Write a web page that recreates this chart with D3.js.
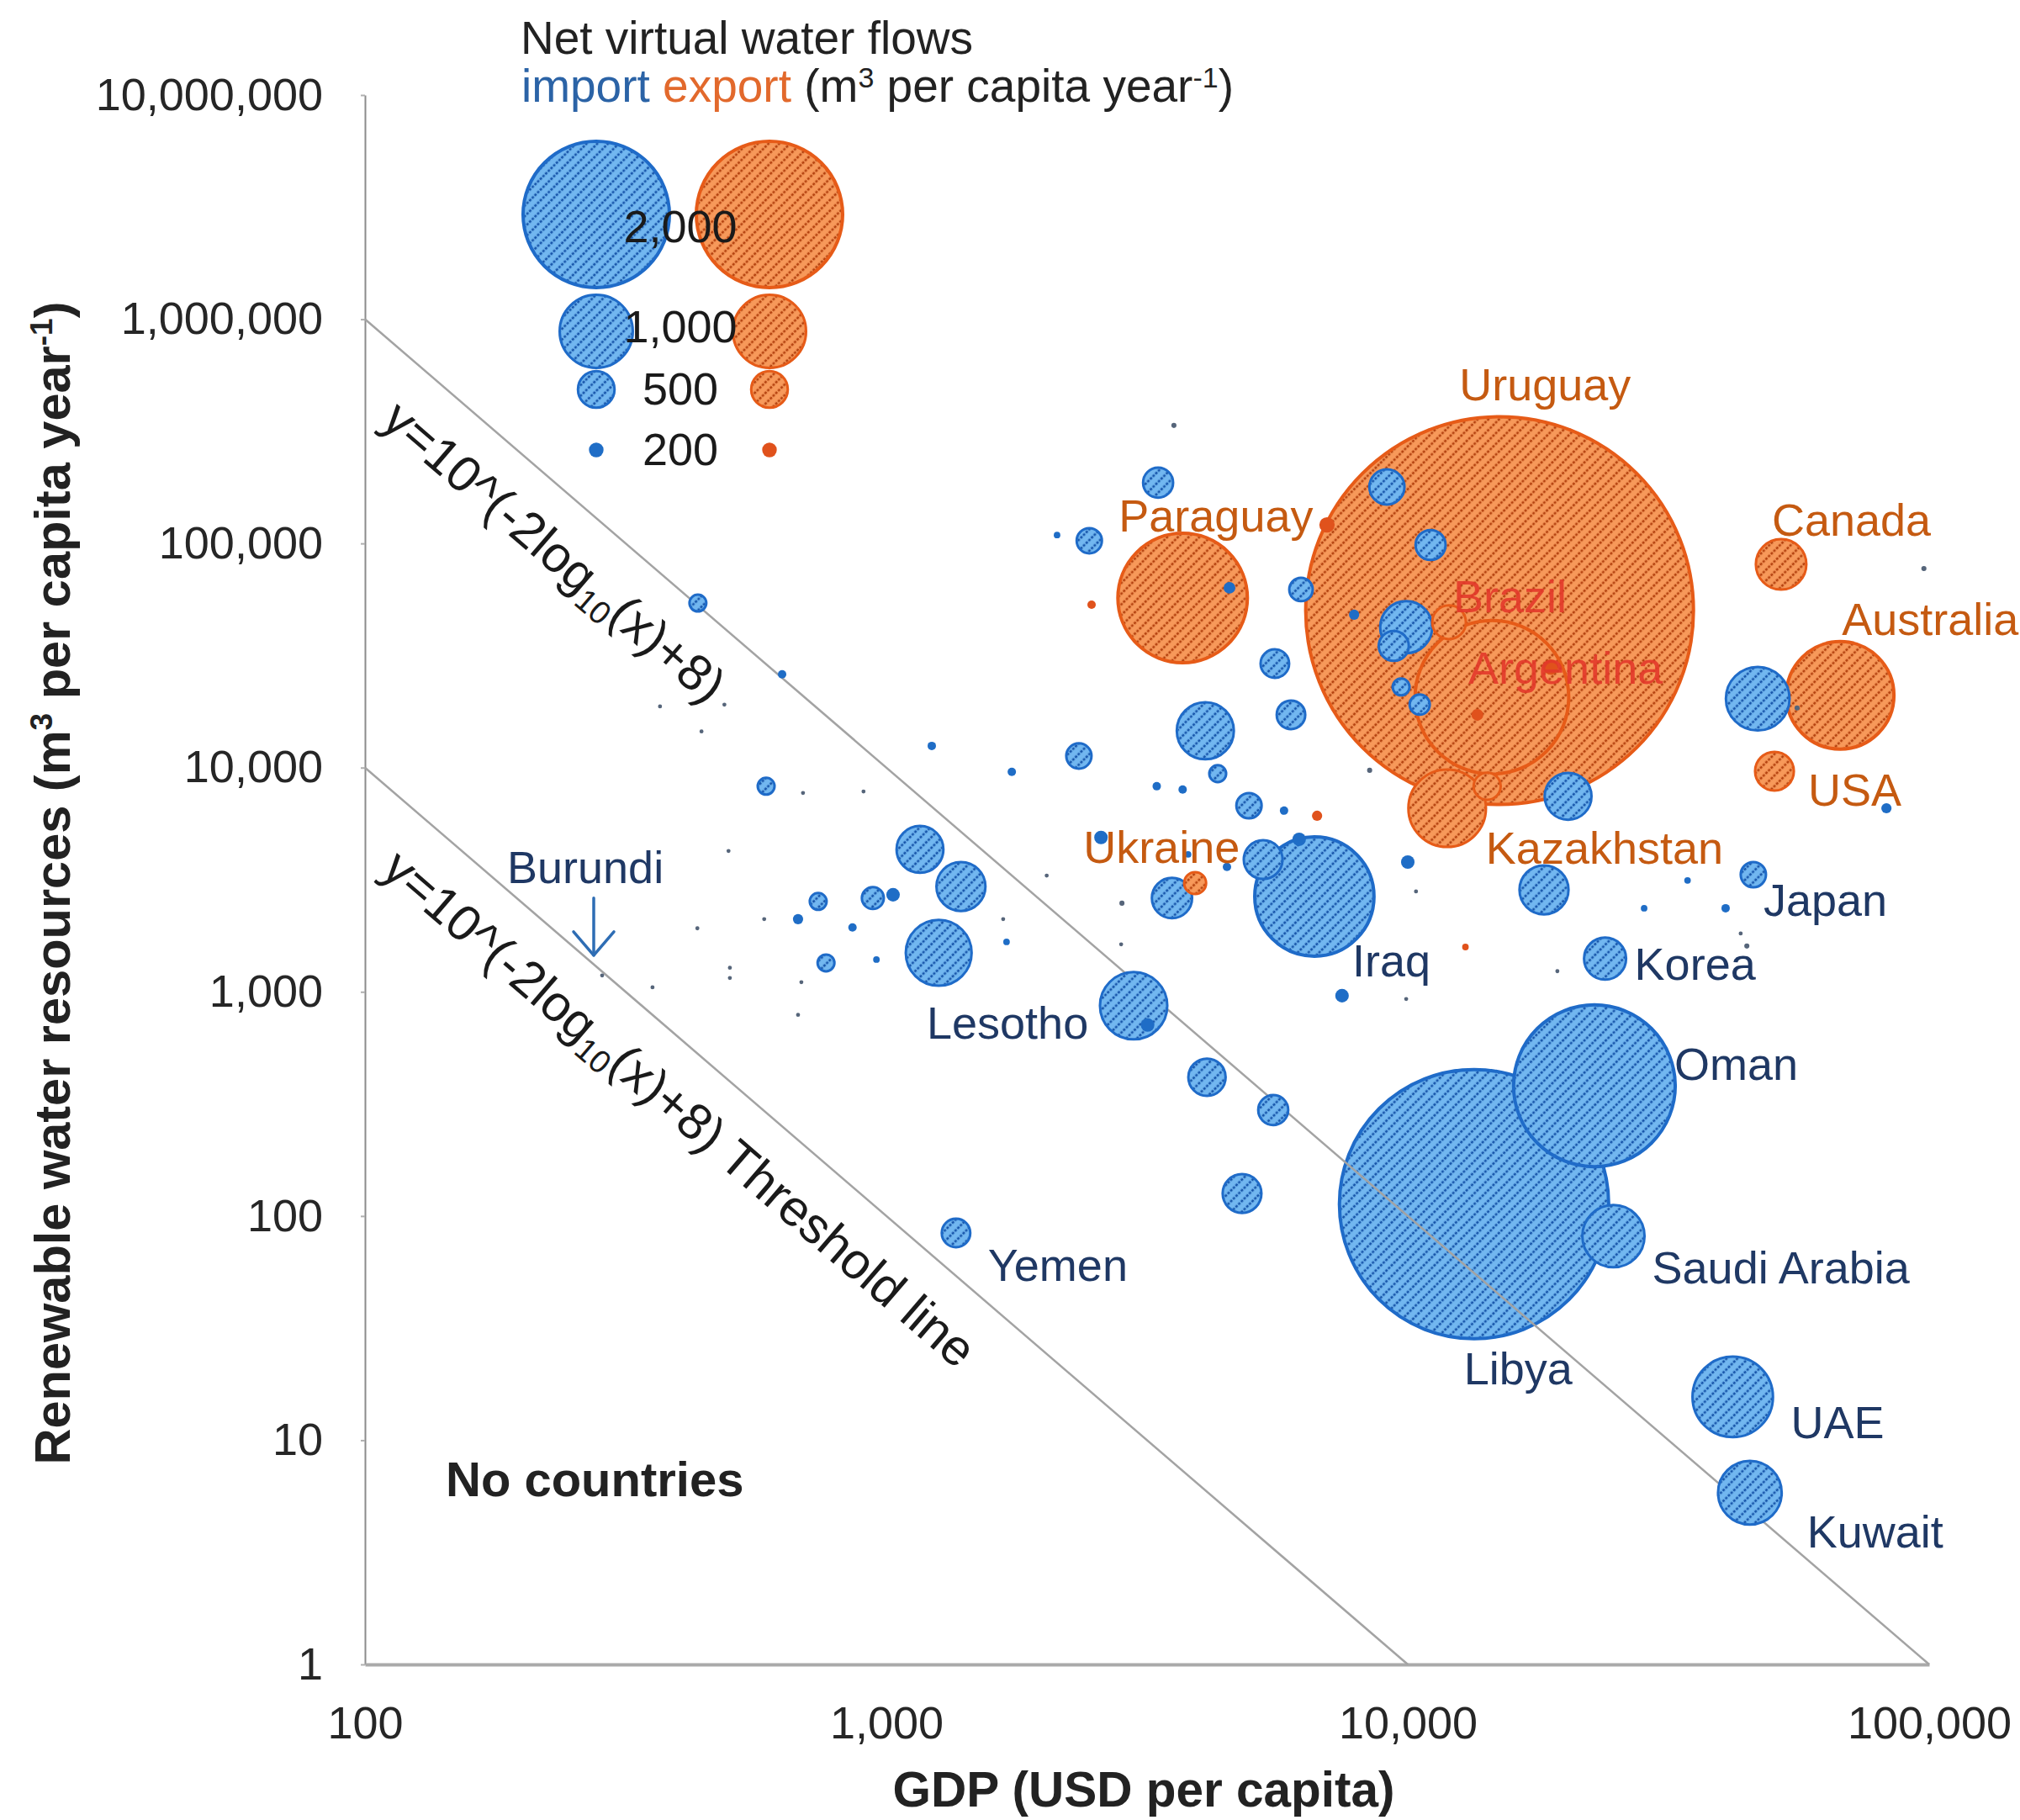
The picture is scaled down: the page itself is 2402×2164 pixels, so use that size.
<!DOCTYPE html>
<html>
<head>
<meta charset="utf-8">
<script src="https://cdn.jsdelivr.net/npm/d3@7"></script>
<style>
  html, body { margin: 0; padding: 0; background: #ffffff; }
  svg { display: block; }
  text { font-family: "Liberation Sans", Arial, Helvetica, sans-serif; }
</style>
</head>
<body>
<svg id="chart" width="2402" height="2164"></svg>
<script>
// ---- Data: per-country GDP, renewable water, net virtual water flow ----
// Names for the first entries; all later entries are unlabelled countries.
const bubbleCountry = [
  "Uruguay","Argentina","Brazil","Paraguay","Kazakhstan","Canada","Australia","USA","Ukraine",
  "","","","","","","","",
  "Libya","Oman","Iraq","UAE","Kuwait","Saudi Arabia","Korea","Japan","Yemen","Lesotho","Burundi"
];
const bubbleGdp = [
  15000,14500,12000,3700,11900,52000,67500,50500,3910,
  2475,13600,18800,7000,14200,6700,12900,44700,
  13400,22800,6620,42000,45300,24800,23900,46000,1360,2980,285,
  46900,20300,18250,9930,9400,4090,1260,1160,1390,5280,3530,4120,5520,4810,9120,11060,3320,5560,
  5970,2450,2340,4960,6240,942,10540,9710,4320,435,588,740,766,1030,2580,10000,7480,6190,3170,
  82800,4550,7890,631,1222,1740,677,861,3300,3700,5790,40700,34400,28400,4500,3790,957,1700,2125,
  3560,97700,8450,2830,55800,
  368,489,442,692,904,498,2030,583,434,501,501,687,356,677,1675,9930,10370,19360,43500,2820
];
const bubbleWater = [
  50200,20600,44500,57100,6590,80700,21000,9640,3055,
  53300,17200,28100,121000,8260,6100,1585,1600,
  113,381,2660,15.6,5.83,81.3,1406,3330,84,867,1183,
  20300,7450,2850,42300,34900,14600,1493,4320,2950,3890,2620,416,297,126,178600,98400,186600,29100,
  17200,102800,11270,6760,62300,2620,19100,22900,9400,54200,8260,2530,1346,2710,4880,3790,961,4790,711,
  6590,63400,48100,26060,12500,9570,2110,1936,8260,7980,6430,2360,3140,2360,3610,4100,1393,1670,109000,
  336000,77300,9730,2485,18450,
  18750,19100,14500,7710,7830,4250,3300,2110,1920,1280,1153,1104,1047,789,2110,929,2805,1236,1820,1629
];
const bubbleFlow = [
  5300,2100,460,1770,1060,690,1470,530,300,
  115,160,210,210,370,140,90,70,
  3680,2210,1630,1100,870,850,575,345,390,920,55,
  870,640,670,710,410,780,900,640,670,530,550,510,410,530,480,410,410,390,
  390,345,345,345,320,300,275,230,230,230,230,230,230,185,185,185,185,185,185,
  140,160,140,115,115,115,140,115,115,115,115,115,90,90,115,90,90,90,90,
  70,70,70,70,70,
  55,55,55,55,55,55,55,55,55,55,55,55,55,55,55,55,55,55,55,55
];
const bubbleKind = bubbleGdp.map((_, i) => i < 17 ? "export" : "import");

// Axis ticks and legend values
const xTicks = [100, 1000, 10000, 100000];
const yTicks = [1, 10, 100, 1000, 10000, 100000, 1000000, 10000000];
const legendValues = [2000, 1000, 500, 200];
const legendLabels = ["2,000", "1,000", "500", "200"];
// Threshold curves y = 10^(-2 log10(x) + c)
const thresholdConst = [10, 8];

// ---- Layout ----
const W = 2402, H = 2164;
const plot = { left: 434, right: 2294, top: 113, bottom: 1979 };
const FONT = 54;
const LEGEND_FONT = 55;
const HATCH_MIN_R = 10;

// label offsets from bubble centre: [dx, dy] to text start/baseline
const labelOffsets = {
  "Uruguay": [-48, -250], "Argentina": [-28, -16], "Brazil": [5, -12], "Paraguay": [-76, -79],
  "Kazakhstan": [46, 66], "Canada": [-11, -34], "Australia": [2, -72], "USA": [40, 41],
  "Ukraine": [-133, -24], "Iraq": [45, 95], "Korea": [35, 25], "Japan": [12, 49],
  "Oman": [95, -7], "Saudi Arabia": [46, 56], "Libya": [-12, 214], "UAE": [69, 49],
  "Kuwait": [68, 65], "Yemen": [38, 57], "Lesotho": [-246, 39], "Burundi": [-113, -110]
};
const redLabels = new Set(["Brazil", "Argentina"]);

const COLORS = {
  importLine: "#1f6bc8", importDot: "#1f6dc6", importBase: "#72b7f0", importInk: "#1755aa",
  exportLine: "#e65b18", exportDot: "#e0521c", exportBase: "#f7995a", exportInk: "#b4420f",
  tinyDot: "#56657a",
  importText: "#1f3864", exportText: "#c55a11", redText: "#e2382a",
  axis: "#8c8c8c", threshold: "#a3a3a3", text: "#262626"
};

const svg = d3.select("#chart");
svg.append("rect").attr("width", W).attr("height", H).attr("fill", "#ffffff");

// Hatch fills for the bubbles
const defs = svg.append("defs");
function hatch(id, base, ink) {
  const p = defs.append("pattern")
    .attr("id", id)
    .attr("patternUnits", "userSpaceOnUse")
    .attr("width", 9).attr("height", 9)
    .attr("patternTransform", "rotate(45)");
  p.append("rect").attr("width", 9).attr("height", 9).attr("fill", base);
  p.append("line")
    .attr("x1", 2).attr("y1", 0).attr("x2", 2).attr("y2", 9)
    .attr("stroke", ink).attr("stroke-width", 2.7)
    .attr("stroke-dasharray", "3 1.5");
}
hatch("hatch-import", COLORS.importBase, COLORS.importInk);
hatch("hatch-export", COLORS.exportBase, COLORS.exportInk);

// ---- Scales ----
const x = d3.scaleLog().domain([100, 100000]).range([plot.left, plot.right]);
const y = d3.scaleLog().domain([1, 10000000]).range([plot.bottom, plot.top]);
const r = d3.scaleLinear().domain([0, 2000]).range([0, 87]);

// ---- Axes ----
const yAxis = d3.axisLeft(y).tickValues(yTicks).tickFormat(d3.format(","))
  .tickSize(5).tickSizeOuter(0).tickPadding(45);
const gy = svg.append("g").attr("transform", `translate(${plot.left},0)`).call(yAxis);
gy.select(".domain").attr("stroke", COLORS.axis).attr("stroke-width", 2);
gy.selectAll(".tick line").attr("stroke", "#b0b0b0").attr("stroke-width", 2);
gy.selectAll(".tick text").attr("font-size", FONT).attr("fill", COLORS.text)
  .style("font-family", "'Liberation Sans', Arial, sans-serif");

const xAxis = d3.axisBottom(x).tickValues(xTicks).tickFormat(d3.format(","))
  .tickSize(0).tickSizeOuter(0).tickPadding(50);
const gx = svg.append("g").attr("transform", `translate(0,${plot.bottom})`).call(xAxis);
gx.select(".domain").attr("stroke", "#aaaaaa").attr("stroke-width", 4);
gx.selectAll(".tick text").attr("font-size", FONT).attr("fill", COLORS.text)
  .style("font-family", "'Liberation Sans', Arial, sans-serif");

// Axis titles
svg.append("text")
  .attr("x", (plot.left + plot.right) / 2 - 4).attr("y", 2148)
  .attr("text-anchor", "middle").attr("font-size", 58.5).attr("font-weight", "bold")
  .attr("fill", "#222").text("GDP (USD per capita)");

const yTitle = svg.append("text")
  .attr("transform", "translate(83,1050) rotate(-90)")
  .attr("text-anchor", "middle").attr("font-size", 59.5).attr("font-weight", "bold")
  .attr("fill", "#222");
yTitle.append("tspan").text("Renewable water resources (m");
yTitle.append("tspan").attr("font-size", 37).attr("dy", -21).text("3");
yTitle.append("tspan").attr("dy", 21).text(" per capita year");
yTitle.append("tspan").attr("font-size", 37).attr("dy", -21).text("-1");
yTitle.append("tspan").attr("dy", 21).text(")");

// ---- Bubbles (largest drawn first) ----
const bubbles = bubbleGdp.map((g, i) => ({
  name: bubbleCountry[i] || "", gdp: g, water: bubbleWater[i], flow: bubbleFlow[i], kind: bubbleKind[i]
})).sort((a, b) => b.flow - a.flow);

const bigLayer = svg.append("g");
const lineLayer = svg.append("g");
const smallLayer = svg.append("g");

function drawBubbles(layer, data) {
  layer.selectAll("circle").data(data).join("circle")
    .attr("cx", d => x(d.gdp))
    .attr("cy", d => y(d.water))
    .attr("r", d => r(d.flow))
    .attr("fill", d => {
      if (r(d.flow) >= HATCH_MIN_R) return `url(#hatch-${d.kind})`;
      if (d.flow <= 70) return COLORS.tinyDot;
      return d.kind === "import" ? COLORS.importDot : COLORS.exportDot;
    })
    .attr("stroke", d => r(d.flow) >= HATCH_MIN_R ? (d.kind === "import" ? COLORS.importLine : COLORS.exportLine) : "none")
    .attr("stroke-width", d => r(d.flow) > 60 ? 4 : 3);
}
drawBubbles(bigLayer, bubbles.filter(d => d.flow >= 3000));
drawBubbles(smallLayer, bubbles.filter(d => d.flow < 3000));

// Threshold lines
const lineGen = d3.line().x(d => x(d[0])).y(d => y(d[1]));
thresholdConst.forEach(c => {
  const x1 = Math.pow(10, c / 2);
  const pts = [[100, Math.pow(10, c) / 1e4], [x1, 1]];
  lineLayer.append("path").attr("d", lineGen(pts))
    .attr("fill", "none").attr("stroke", COLORS.threshold).attr("stroke-width", 2.5);
});

// Threshold line labels, rotated along the lines
const angle = Math.atan2(y(1) - y(1e6), x(1e5) - x(100)) * 180 / Math.PI;
function formulaLabel(tx, ty, suffix) {
  const t = svg.append("text")
    .attr("transform", `translate(${tx},${ty}) rotate(${angle})`)
    .attr("font-size", 60).attr("fill", "#1a1a1a");
  t.append("tspan").text("y=10^(-2log");
  t.append("tspan").attr("font-size", 38).attr("dy", 12).text("10");
  t.append("tspan").attr("dy", -12).text("(x)+8)" + suffix);
}
formulaLabel(451, 504, "");
formulaLabel(451, 1038, " Threshold line");

// "No countries"
svg.append("text").attr("x", 530).attr("y", 1779)
  .attr("font-size", 58).attr("font-weight", "bold").attr("fill", "#222")
  .text("No countries");

// ---- Country labels ----
const labelled = bubbles.filter(d => d.name && labelOffsets[d.name]);
svg.append("g").selectAll("text").data(labelled).join("text")
  .attr("x", d => x(d.gdp) + labelOffsets[d.name][0])
  .attr("y", d => y(d.water) + labelOffsets[d.name][1])
  .attr("font-size", FONT)
  .attr("fill", d => redLabels.has(d.name) ? COLORS.redText
    : (d.kind === "import" ? COLORS.importText : COLORS.exportText))
  .attr("fill-opacity", d => redLabels.has(d.name) ? 0.9 : 1)
  .text(d => d.name);

// Arrow from the Burundi label down to its point
const bur = bubbles.find(d => d.name === "Burundi");
const bx = x(bur.gdp) - 10, by = y(bur.water);
const arrow = svg.append("g").attr("stroke", "#2e6db4").attr("stroke-width", 3.5)
  .attr("fill", "none").attr("stroke-linecap", "round").attr("stroke-linejoin", "round");
arrow.append("line").attr("x1", bx).attr("y1", by - 92).attr("x2", bx).attr("y2", by - 24);
arrow.append("polyline").attr("points", `${bx - 24},${by - 52} ${bx},${by - 24} ${bx + 24},${by - 52}`);

// ---- Legend ----
const legendRowY = [255, 394, 463, 535];
const legendTextY = [288, 407, 481, 553];
const legendX = { import: 709, export: 915 };

svg.append("text").attr("x", 619).attr("y", 64).attr("font-size", LEGEND_FONT).attr("fill", "#222")
  .text("Net virtual water flows");
const lt = svg.append("text").attr("x", 620).attr("y", 121).attr("font-size", LEGEND_FONT).attr("fill", "#222");
lt.append("tspan").attr("fill", "#2b63a6").text("import");
lt.append("tspan").attr("fill", "#e2692c").text(" export");
lt.append("tspan").text(" (m");
lt.append("tspan").attr("font-size", 34).attr("dy", -17).text("3");
lt.append("tspan").attr("dy", 17).text(" per capita year");
lt.append("tspan").attr("font-size", 34).attr("dy", -17).text("-1");
lt.append("tspan").attr("dy", 17).text(")");

const legendItems = [];
legendValues.forEach((v, i) => {
  ["import", "export"].forEach(k => legendItems.push({ v, i, kind: k }));
});
svg.append("g").selectAll("circle").data(legendItems).join("circle")
  .attr("cx", d => legendX[d.kind])
  .attr("cy", d => legendRowY[d.i])
  .attr("r", d => r(d.v))
  .attr("fill", d => r(d.v) >= HATCH_MIN_R ? `url(#hatch-${d.kind})` : (d.kind === "import" ? COLORS.importDot : COLORS.exportDot))
  .attr("stroke", d => r(d.v) >= HATCH_MIN_R ? (d.kind === "import" ? COLORS.importLine : COLORS.exportLine) : "none")
  .attr("stroke-width", d => r(d.v) > 60 ? 4 : 3);

svg.append("g").selectAll("text").data(legendLabels).join("text")
  .attr("x", 809).attr("y", (d, i) => legendTextY[i])
  .attr("text-anchor", "middle").attr("font-size", FONT).attr("fill", "#1a1a1a")
  .text(d => d);
</script>
</body>
</html>
